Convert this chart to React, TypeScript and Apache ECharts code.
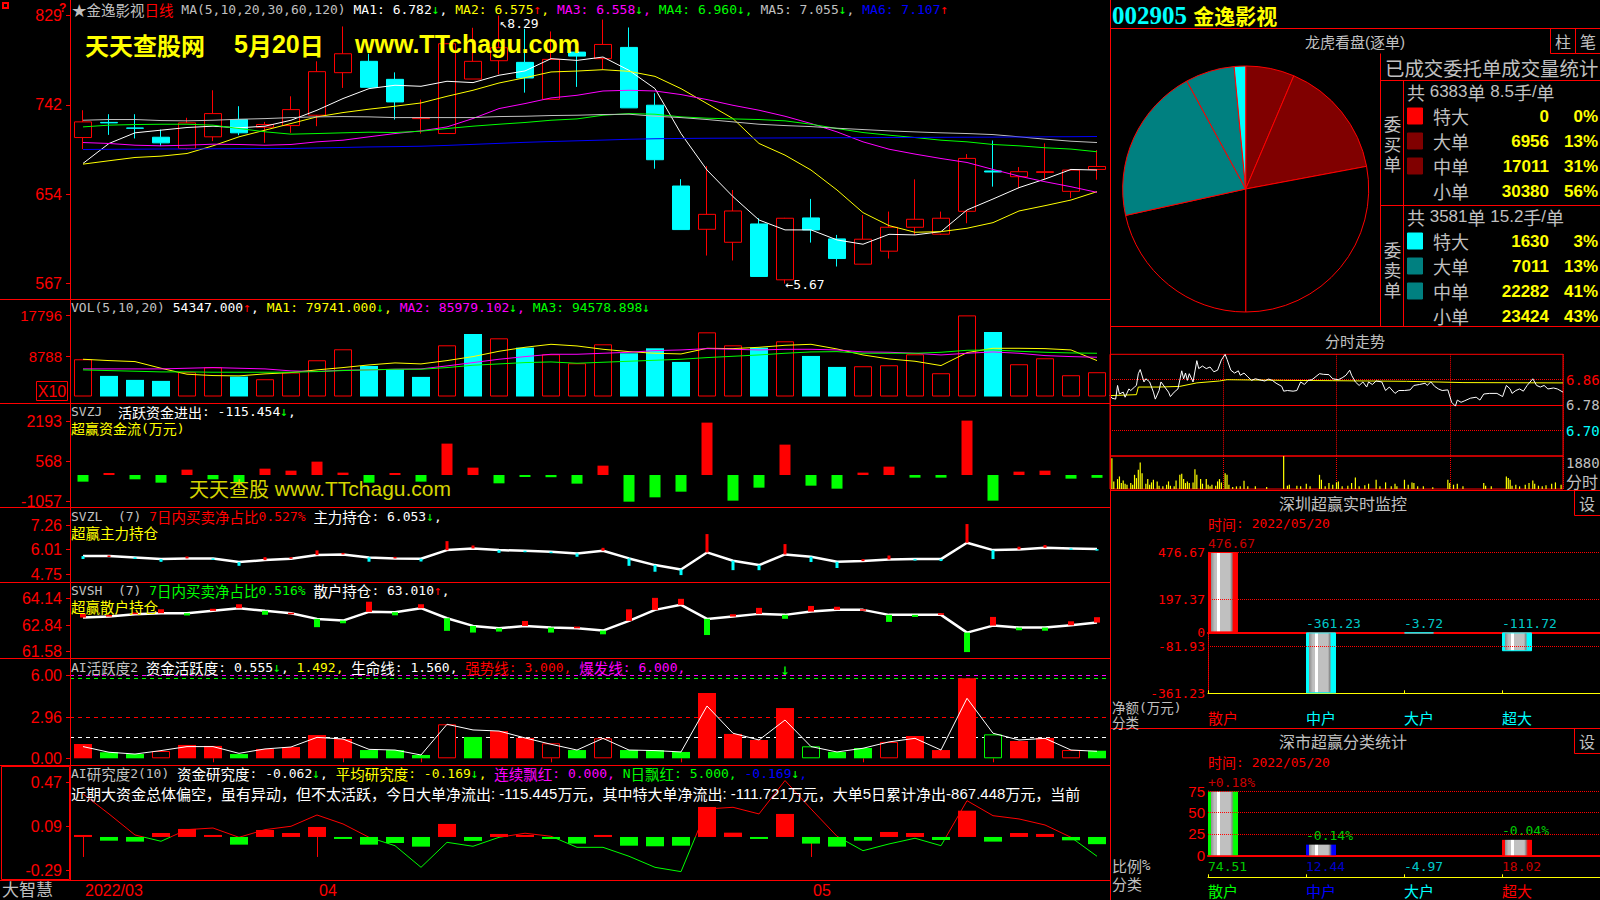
import React, { useEffect, useRef } from 'react';
import * as echarts from 'echarts';

const MONO = '"DejaVu Sans Mono", monospace';
const CJK = '"Noto Sans CJK SC", sans-serif';
const SANS = '"Liberation Sans", Arial, sans-serif';
const SERIF = '"Liberation Serif", serif';
const RED = '#ff0000', CYAN = '#00ffff', GREEN = '#00ff00', YELLOW = '#ffff00', MAGENTA = '#ff00ff';
const WHITE = '#ffffff', GRAY = '#c0c0c0', BLUE = '#0000ff', DARKRED = '#800000', TEAL = '#008080';

// ---------------- left: daily K line ----------------
const dates = ['2022/03/21','2022/03/22','2022/03/23','2022/03/24','2022/03/25','2022/03/28','2022/03/29','2022/03/30','2022/03/31','2022/04/01',
  '2022/04/06','2022/04/07','2022/04/08','2022/04/11','2022/04/12','2022/04/13','2022/04/14','2022/04/15','2022/04/18','2022/04/19',
  '2022/04/20','2022/04/21','2022/04/22','2022/04/25','2022/04/26','2022/04/27','2022/04/28','2022/04/29','2022/05/05','2022/05/06',
  '2022/05/09','2022/05/10','2022/05/11','2022/05/12','2022/05/13','2022/05/16','2022/05/17','2022/05/18','2022/05/19','2022/05/20'];
// [open, close, low, high]
const candles = [
  [7.097,7.25,6.983,7.364],[7.245,7.24,7.123,7.325],[7.19,7.188,7.088,7.325],[7.10,7.045,7.013,7.175],[6.99,7.24,6.98,7.29],
  [7.104,7.331,7.062,7.559],[7.273,7.143,7.12,7.403],[7.198,7.224,7.045,7.25],[7.214,7.37,7.143,7.50],[7.315,7.741,7.208,7.842],
  [7.731,7.916,7.582,8.183],[7.842,7.588,7.588,7.916],[7.666,7.445,7.273,7.734],[7.282,7.292,7.136,7.468],[7.136,8.014,7.136,8.02],
  [7.669,7.842,7.669,8.17],[7.848,7.975,7.715,8.29],[7.832,7.679,7.536,8.16],[7.471,7.861,7.471,8.134],[7.932,7.893,7.592,7.991],
  [7.868,8.007,7.763,8.25],[7.978,7.387,7.387,8.173],[7.413,6.88,6.792,7.53],[6.623,6.197,6.197,6.69],[6.20,6.346,5.943,6.818],
  [6.073,6.379,5.895,6.584],[6.252,5.739,5.739,6.308],[5.706,6.308,5.67,6.312],[6.311,6.194,6.07,6.497],[6.106,5.914,5.836,6.145],
  [5.859,6.103,5.859,6.34],[5.986,6.22,5.914,6.373],[6.22,6.298,6.145,6.688],[6.152,6.308,6.145,6.373],[6.376,6.893,6.259,6.935],
  [6.77,6.76,6.617,7.068],[6.714,6.763,6.60,6.808],[6.756,6.763,6.69,7.04],[6.571,6.779,6.506,6.79],[6.785,6.814,6.685,6.974]];
const ma5 = [6.844,7.039,7.143,7.169,7.195,7.208,7.192,7.208,7.266,7.364,7.478,7.575,7.608,7.598,7.647,7.634,7.706,7.748,7.868,
  7.851,7.884,7.754,7.575,7.136,6.779,6.519,6.291,6.194,6.194,6.096,6.054,6.151,6.145,6.177,6.389,6.496,6.607,6.691,6.785,6.779];
const ma10 = [6.837,6.87,6.902,6.915,6.941,7.016,7.104,7.169,7.234,7.299,7.341,7.374,7.403,7.435,7.5,7.559,7.63,7.682,7.738,
  7.747,7.76,7.744,7.695,7.575,7.429,7.282,7.039,6.925,6.779,6.584,6.363,6.236,6.171,6.177,6.21,6.265,6.379,6.431,6.486,6.568];
const ma20 = [7.048,7.039,7.022,7.016,7.022,7.032,7.029,7.022,7.029,7.055,7.071,7.104,7.136,7.162,7.201,7.283,7.38,7.429,7.484,
  7.51,7.552,7.559,7.552,7.517,7.468,7.412,7.364,7.305,7.234,7.152,7.055,6.983,6.935,6.892,6.853,6.785,6.72,6.665,6.616,6.561];
const ma30 = [7.201,7.218,7.224,7.227,7.227,7.218,7.185,7.153,7.13,7.136,7.143,7.149,7.146,7.159,7.185,7.208,7.227,7.244,7.266,
  7.279,7.315,7.331,7.325,7.299,7.286,7.279,7.273,7.26,7.227,7.185,7.146,7.12,7.097,7.071,7.055,7.029,7.016,6.997,6.984,6.958];
const ma60 = [7.266,7.273,7.273,7.263,7.26,7.266,7.276,7.282,7.292,7.299,7.302,7.299,7.292,7.292,7.292,7.292,7.302,7.305,7.312,
  7.315,7.322,7.325,7.305,7.292,7.273,7.25,7.227,7.214,7.204,7.188,7.175,7.162,7.152,7.143,7.136,7.126,7.104,7.081,7.061,7.048];
const ma120 = [6.98,6.982,6.983,6.985,6.985,6.987,6.988,6.99,6.99,6.995,7.0,7.005,7.008,7.012,7.02,7.03,7.04,7.05,7.058,7.065,
  7.072,7.08,7.085,7.088,7.09,7.091,7.092,7.093,7.094,7.095,7.096,7.097,7.098,7.099,7.1,7.101,7.102,7.104,7.105,7.107];
const mainTicks = [5.67, 6.5433, 7.4167, 8.29];

const vol = [8131,4501,3630,3412,5300,6389,4356,3775,5227,7913,10309,6679,5953,4283,11180,13649,12705,10672,9220,
  7260,11398,9438,10527,7550,14012,11180,10672,12052,8857,6461,6607,6824,9220,5082,17714,14084,7042,8349,4646,5300];
const volMa5 = [8131,7841,7623,6171,4864,4574,4501,4937,5227,5808,6316,6897,7333,7115,7841,8712,9874,10745,11398,
  11035,10309,9801,9438,9293,10527,10454,10745,11180,11398,10382,9075,8204,7696,6752,9583,10527,10527,10454,10164,7841];
const volMa10 = [6026,6026,6026,6026,6171,6316,6171,6026,5590,5445,5735,5808,5953,6026,6679,7405,8131,8712,9220,
  9220,9438,9656,10019,10164,10454,10309,10164,10309,10309,10164,9728,9656,9438,9075,9438,9728,9438,8930,8712,8567];
const volMa20 = [5808,5663,5518,5372,5372,5300,5300,5300,5300,5445,5663,5808,5953,5953,6316,6824,7115,7405,7550,
  7260,7478,7696,7913,8131,8494,8785,9075,9438,9728,9801,9438,9438,9438,9656,10091,10164,9874,9656,9511,9438];
const volTicks = [8788, 17796];

const svzj = [-271,15,-176,-312,217,-176,-298,257,176,542,95,-312,15,-271,1274,298,-339,-54,-90,
  -352,379,-1084,-908,-678,2127,-1043,-515,1233,-434,-556,95,339,-108,-108,2209,-1043,135,176,-149,-115];
const svzjTicks = [-1057, 568, 2193];

const svzl = [5.667,5.667,5.599,5.513,5.548,5.548,5.36,5.462,5.53,5.718,5.752,5.599,5.548,5.53,5.974,6.06,5.974,5.94,5.889,
  5.804,5.94,5.548,5.206,4.984,5.855,5.428,5.206,5.752,5.633,5.377,5.411,5.496,5.513,5.513,6.349,5.974,6.008,6.093,6.06,6.025];
const svzlDelta = [-0.15,0.03,-0.08,-0.14,0.1,-0.08,-0.19,0.15,0.08,0.24,0.08,-0.22,0.08,-0.14,0.46,0.15,-0.14,-0.04,-0.05,-0.17,
  0.15,-0.38,-0.34,-0.29,0.94,-0.48,-0.26,0.53,-0.27,-0.32,0.1,0.2,-0.03,-0.1,0.96,-0.46,0.14,0.14,-0.03,-0.05];
const svzlTicks = [4.75, 6.01, 7.26];

const svsh = [63.23,63.278,63.391,63.44,63.44,63.553,63.682,63.553,63.44,63.165,63.084,63.504,63.488,63.682,63.197,62.825,62.712,62.825,62.744,
  62.712,62.6,63.068,63.601,63.844,63.165,63.278,63.407,63.359,63.52,63.601,63.601,63.359,63.359,63.359,62.502,62.84,62.744,62.744,62.858,62.987];
const svshDelta = [0.18,0.08,0.08,0.19,-0.11,0.1,0.19,-0.19,0.02,-0.4,-0.13,0.49,-0.15,0.19,-0.61,-0.32,-0.16,0.24,-0.24,0.08,
  -0.18,0.56,0.58,0.29,-0.78,0.11,0.29,-0.19,0.27,0.15,0.03,-0.34,-0.1,0.08,-0.94,0.42,-0.13,-0.15,0.19,0.26];
const svshTicks = [61.58, 62.84, 64.14];

const aiAct = [1.04,0.44,0.31,0.53,0.97,0.9,0.31,0.68,0.82,1.69,1.4,0.6,0.6,0.24,2.47,1.55,1.98,1.48,1.09,0.6,
  1.45,0.6,0.6,0.46,4.74,1.77,1.33,3.65,0.87,0.46,0.75,1.19,1.62,0.6,5.81,1.74,1.26,1.48,0.6,0.55];
// R red filled, G green filled, r red hollow, g green hollow
const aiActType = 'RGGrRRGRRRRGGGrGRRrGrGGGRRRRgGGrRRRgRRrG';
const aiActLine = [0.85,0.44,0.31,0.56,0.85,0.85,0.36,0.68,0.82,1.52,1.4,0.65,0.6,0.24,2.47,2.06,1.98,1.48,1.02,0.6,
  1.45,0.6,0.56,0.46,3.8,1.82,1.33,2.78,0.85,0.46,0.73,1.19,1.45,0.6,4.36,1.82,1.33,1.45,0.6,0.51];
const aiActTicks = [0, 2.96, 6.0];
const aiActLife = 1.56, aiActStrong = 3.0, aiActBurst = 6.0, aiActHigh = 5.81, aiActSignal = 27;

const aiRes = [0.005,-0.032,-0.04,0.034,0.069,0.017,-0.066,0.06,0.034,0.086,-0.006,-0.066,-0.052,-0.083,0.112,-0.034,0.026,0.017,-0.017,-0.057,
  0.008,-0.075,-0.08,-0.075,0.258,0.037,-0.017,0.198,-0.057,-0.083,-0.032,0.043,0.034,-0.026,0.226,-0.04,0.034,0.026,-0.029,-0.062];
const aiResLine = [0.37,0.198,0.017,-0.037,0.063,0.077,-0.003,0.063,0.092,0.189,0.112,-0.003,-0.075,-0.261,-0.046,-0.08,-0.003,0.032,0.006,-0.089,
  -0.089,-0.166,-0.261,-0.298,0.241,0.255,0.198,0.485,0.241,0.006,-0.118,-0.06,-0.011,-0.075,0.312,0.183,0.155,0.103,-0.003,-0.166];
const aiResTicks = [-0.29, 0.09, 0.47];

// ---------------- right side ----------------
const orderNames = ['特大', '大单', '中单', '小单'];
const buyVols = [0, 6956, 17011, 30380];
const sellVols = [1630, 7011, 22282, 23424];
const buyColors = [RED, DARKRED, DARKRED, '#000000'];
const sellColors = [CYAN, TEAL, TEAL, '#000000'];
const buyCount = 6383, buyAvg = '8.5', sellCount = 3581, sellAvg = '15.2';

const fsMin = [0,1,3,4,5,7,8,10,11,13,14,15,16,18,19,21,22,23,24,26,27,29,31,32,34,36,38,39,40,41,42,44,46,47,49,51,53,55,57,59,
  61,62,64,66,68,69,71,73,75,77,79,82,84,86,88,91,92,94,97,99,101,103,105,107,111,113,116,118,121,123,125,127,128,130,132,134,136,137,139,141,
  144,146,148,151,153,156,159,161,164,167,168,170,172,174,176,179,181,183,184,186,188,191,194,196,198,201,205,208,210,212,213,215,217,219,221,224,226,228,230,232,235,237,240];
const fsPrice = [6.81,6.802,6.799,6.842,6.815,6.821,6.805,6.831,6.826,6.837,6.842,6.879,6.892,6.853,6.863,6.853,6.837,6.821,6.799,6.826,
  6.853,6.837,6.821,6.807,6.821,6.831,6.888,6.863,6.881,6.858,6.879,6.853,6.92,6.895,6.903,6.895,6.9,6.885,6.89,6.922,
  6.94,6.924,6.89,6.881,6.888,6.874,6.881,6.869,6.858,6.863,6.86,6.856,6.862,6.858,6.849,6.839,6.824,6.826,6.824,6.826,
  6.853,6.845,6.858,6.86,6.879,6.877,6.876,6.863,6.86,6.866,6.874,6.89,6.874,6.853,6.842,6.853,6.837,6.853,6.845,6.856,
  6.853,6.826,6.837,6.817,6.826,6.826,6.828,6.842,6.845,6.849,6.842,6.853,6.839,6.831,6.826,6.828,6.789,6.777,6.796,6.789,
  6.794,6.802,6.805,6.796,6.815,6.817,6.817,6.807,6.842,6.831,6.817,6.826,6.831,6.824,6.842,6.863,6.842,6.837,6.842,6.831,
  6.834,6.831,6.821];
const fsAvgMin = [0,14,15,26,37,46,58,62,92,118,157,187,240];
const fsAvg = [6.81,6.813,6.837,6.837,6.839,6.85,6.856,6.86,6.858,6.857,6.855,6.851,6.85];
const fsVolMin = [1,2,4,5,6,7,8,9,11,12,13,14,15,16,17,19,20,21,22,23,25,26,28,30,31,32,34,35,37,38,39,40,41,42,44,45,46,48,49,51,
  52,53,54,56,57,58,59,61,62,63,65,67,69,71,73,77,83,92,94,95,99,101,104,106,111,112,114,116,118,120,121,123,126,128,130,132,135,137,141,143,
  146,149,151,152,156,158,160,161,163,166,171,179,180,182,184,187,198,199,202,210,211,212,213,215,217,220,222,224,225,227,229,231,234,236,239];
const fsVol = [1748,432,564,714,338,489,301,244,338,244,808,620,1090,1504,902,301,564,244,376,526,432,188,150,244,432,188,150,489,808,865,
  564,338,432,338,376,1128,808,564,301,564,244,150,244,188,432,564,376,902,808,244,113,150,150,470,150,150,113,1880,188,244,
  188,150,301,150,808,526,150,338,244,376,432,150,188,338,658,150,207,301,526,150,376,150,301,150,526,244,376,338,150,150,
  94,526,338,244,301,150,338,188,150,714,620,526,188,244,150,244,338,489,301,188,150,207,301,376,244];
const fsTicks = [6.70, 6.78, 6.86];
const fsPreClose = 6.78;
const fsVolMax = 1880;

const flowCats = ['散户', '中户', '大户', '超大'];
const monVals = [476.67, -361.23, -3.72, -111.72];
const monTicks = [-361.23, -81.93, 0, 197.37, 476.67];
const ratioVals = [74.51, 12.44, -4.97, 18.02];
const ratioChg = [0.18, -0.14, null, -0.04];
const ratioTicks = [0, 25, 50, 75];
const ratioColors = [GREEN, BLUE, CYAN, RED];
const reportDate = '2022/05/20';

// ---------------- helpers ----------------
function isCjk(ch: string) {
  const c = ch.codePointAt(0) || 0;
  return (c >= 0x2e80 && c <= 0x9fff) || (c >= 0xff00 && c <= 0xffef) || (c >= 0x3000 && c <= 0x303f) || c === 0x2605;
}
function rt(parts: [string, string][], o: any = {}) {
  const latin = o.latin ?? 13, cjk = o.cjk ?? 14.5;
  const lf = o.latinFont ?? MONO, cf = o.cjkFont ?? CJK;
  const rich: any = {};
  let text = '';
  let k = 0;
  for (const [str, color] of parts) {
    let run = '';
    let mode: boolean | null = null;
    const flush = () => {
      if (!run) return;
      const name = 'r' + k++;
      rich[name] = { fill: color, fontSize: mode ? cjk : latin, fontFamily: mode ? cf : lf, fontWeight: o.weight ?? 'normal', lineHeight: o.lh ?? Math.max(latin, cjk) };
      text += '{' + name + '|' + run + '}';
      run = '';
    };
    for (const ch of Array.from(str)) {
      const m = isCjk(ch);
      if (mode !== null && m !== mode) flush();
      mode = m;
      run += ch;
    }
    flush();
  }
  return { text, rich };
}

function buildOption() {
  const g: any[] = [];
  const T = (x: number, y: number, parts: [string, string][], o: any = {}, align = 'left') => {
    const r = rt(parts, o);
    g.push({ type: 'text', x, y, z: 100, silent: true, style: { text: r.text, rich: r.rich, align, verticalAlign: 'middle', fill: WHITE } });
  };
  const L = (x1: number, y1: number, x2: number, y2: number, color = RED) =>
    g.push({ type: 'line', z: 60, silent: true, shape: { x1, y1, x2, y2 }, style: { stroke: color, lineWidth: 1 } });
  const B = (x: number, y: number, w: number, h: number, color = RED, fill = 'none') =>
    g.push({ type: 'rect', z: 60, silent: true, shape: { x, y, width: w, height: h }, style: { fill, stroke: color, lineWidth: 1 } });

  // ---- frame lines ----
  [299.5, 403.5, 507.5, 582.5, 658.5, 765.5, 880.5].forEach((y) => L(0, y, 1110, y));
  L(70.5, 0, 70.5, 880);
  L(1110.5, 0, 1110.5, 900);
  [28.5, 326.5, 490.5, 728.5].forEach((y) => L(1110, y, 1600, y));
  L(1380.5, 53.5, 1380.5, 326.5);
  L(1380.5, 80.5, 1600, 80.5);
  L(1380.5, 205.5, 1600, 205.5);
  L(1403.5, 80.5, 1403.5, 326.5);
  B(1550.5, 28.5, 25, 25); B(1575.5, 28.5, 25, 25);
  B(1574.5, 490.5, 26, 25); B(1574.5, 728.5, 26, 25);
  B(1.5, 766.5, 68, 113);
  B(36.5, 381.5, 31, 19);
  g.push({ type: 'rect', z: 60, silent: true, shape: { x: 3, y: 3, width: 5, height: 5 }, style: { fill: 'none', stroke: RED, lineWidth: 2 } });

  // ---- left texts ----
  T(59, 8, [['?', RED]], { latin: 12, weight: 'bold', latinFont: SANS });
  T(72, 9.5, [['★', GRAY], ['金逸影视', GRAY], ['日线', RED], [' MA(5,10,20,30,60,120) ', GRAY],
    ['MA1: 6.782', WHITE], ['↓', GREEN], [', ', WHITE], ['MA2: 6.575', YELLOW], ['↑', RED], [', ', YELLOW],
    ['MA3: 6.558', MAGENTA], ['↓', GREEN], [', ', MAGENTA], ['MA4: 6.960', GREEN], ['↓', GREEN], [', ', GREEN],
    ['MA5: 7.055', GRAY], ['↓', GREEN], [', ', GRAY], ['MA6: 7.107', BLUE], ['↑', RED]], { cjk: 14.5 });
  const wm = { latin: 25, cjk: 24, latinFont: SANS, weight: 'bold' };
  T(85, 44, [['天天查股网', YELLOW]], wm);
  T(234, 44, [['5月20日', YELLOW]], wm);
  T(355, 44, [['www.TTchagu.com', YELLOW]], wm);
  T(71, 307, [['VOL(5,10,20) ', GRAY], ['54347.000', WHITE], ['↑', RED], [', ', WHITE], ['MA1: 79741.000', YELLOW], ['↓', GREEN],
    [', ', YELLOW], ['MA2: 85979.102', MAGENTA], ['↓', GREEN], [', ', MAGENTA], ['MA3: 94578.898', GREEN], ['↓', GREEN]]);
  T(52, 391, [['X10', RED]], { latin: 16, latinFont: SANS }, 'center');
  T(71, 411.5, [['SVZJ  ', GRAY], ['活跃资金进出: -115.454', WHITE], ['↓', GREEN], [',', WHITE]], { cjk: 14, lh: 13 });
  T(71, 428, [['超赢资金流(万元)', YELLOW]], { cjk: 14, lh: 13 });
  T(189, 488, [['天天查股 www.TTchagu.com', '#d4d400']], { latin: 21, cjk: 20, latinFont: SANS });
  T(71, 516, [['SVZL  (7) ', GRAY], ['7日内买卖净占比0.527%', RED], [' 主力持仓: 6.053', WHITE], ['↓', GREEN], [',', WHITE]], { lh: 13 });
  T(71, 532, [['超赢主力持仓', YELLOW]], { lh: 13 });
  T(71, 590, [['SVSH  (7) ', GRAY], ['7日内买卖净占比0.516%', GREEN], [' 散户持仓: 63.010', WHITE], ['↑', RED], [',', WHITE]], { lh: 13 });
  T(71, 606, [['超赢散户持仓', YELLOW]], { lh: 13 });
  T(71, 667.5, [['AI活跃度2 ', GRAY], ['资金活跃度: 0.555', WHITE], ['↓', GREEN], [', ', WHITE], ['1.492, ', YELLOW],
    ['生命线: 1.560, ', WHITE], ['强势线: 3.000, ', RED], ['爆发线: 6.000,', MAGENTA]]);
  T(71, 773.5, [['AI研究度2(10) ', GRAY], ['资金研究度: -0.062', WHITE], ['↓', GREEN], [', ', WHITE], ['平均研究度: -0.169', YELLOW],
    ['↓', GREEN], [', ', YELLOW], ['连续飘红: 0.000, ', MAGENTA], ['N日飘红: 5.000, ', GREEN], ['-0.169', BLUE], ['↓', GREEN], [',', BLUE]]);
  T(71, 793.5, [['近期大资金总体偏空，虽有异动，但不太活跃，今日大单净流出: -115.445万元，其中特大单净流出: -111.721万元，大单5日累计净出-867.448万元，当前', WHITE]],
    { latin: 15, cjk: 15, latinFont: SANS });
  T(2, 888, [['大智慧', GRAY]], { cjk: 17, lh: 17 });

  // ---- right texts ----
  T(1112, 15, [['002905', CYAN], [' 金逸影视', YELLOW]], { latin: 25, cjk: 21, latinFont: SERIF, weight: 'bold' });
  T(1355, 41, [['龙虎看盘(逐单)', GRAY]], { latinFont: SANS, latin: 15, cjk: 15 }, 'center');
  T(1563, 41, [['柱', GRAY]], { cjk: 16 }, 'center');
  T(1588, 41, [['笔', GRAY]], { cjk: 16 }, 'center');
  T(1385, 67, [['已成交委托单成交量统计', GRAY]], { cjk: 19.4 });
  ['委', '买', '单'].forEach((c, i) => T(1392.5, 123 + 20 * i, [[c, GRAY]], { cjk: 17.5, lh: 17.5 }, 'center'));
  ['委', '卖', '单'].forEach((c, i) => T(1392.5, 249 + 20 * i, [[c, GRAY]], { cjk: 17.5, lh: 17.5 }, 'center'));
  const tbl = { latin: 17, cjk: 18, latinFont: SANS };
  T(1407, 91.5, [['共 ' + buyCount + '单 ' + buyAvg + '手/单', GRAY]], tbl);
  T(1407, 216.5, [['共 ' + sellCount + '单 ' + sellAvg + '手/单', GRAY]], tbl);
  const buySum = buyVols.reduce((a, b) => a + b, 0);
  const sellSum = sellVols.reduce((a, b) => a + b, 0);
  const rows = (vals: number[], cols: string[], sum: number, y0: number) => {
    vals.forEach((v, i) => {
      const y = y0 + 25 * i;
      if (i < 3) B(1407.5, y - 8, 15, 16, cols[i], cols[i]);
      T(1433, y, [[orderNames[i], GRAY]], { cjk: 18 });
      T(1549, y, [[String(v), YELLOW]], { latin: 17, latinFont: SANS, weight: 'bold' }, 'right');
      T(1598, y, [[Math.round((v / sum) * 100) + '%', YELLOW]], { latin: 17, latinFont: SANS, weight: 'bold' }, 'right');
    });
  };
  rows(buyVols, buyColors, buySum, 116);
  rows(sellVols, sellColors, sellSum, 241);
  T(1355, 340, [['分时走势', GRAY]], { cjk: 15 }, 'center');
  T(1566, 481, [['分时', GRAY]], { cjk: 16 });
  T(1343, 503, [['深圳超赢实时监控', GRAY]], { cjk: 16 }, 'center');
  T(1587, 503, [['设', GRAY]], { cjk: 16 }, 'center');
  T(1208, 523.5, [['时间: ' + reportDate, RED]], { cjk: 14 });
  T(1112, 707, [['净额(万元)', GRAY]], { cjk: 13.5, lh: 12 });
  T(1112, 722, [['分类', GRAY]], { cjk: 13.5, lh: 12 });
  T(1343, 741, [['深市超赢分类统计', GRAY]], { cjk: 16 }, 'center');
  T(1587, 741, [['设', GRAY]], { cjk: 16 }, 'center');
  T(1208, 762, [['时间: ' + reportDate, RED]], { cjk: 14 });
  T(1112, 865, [['比例%', GRAY]], { cjk: 15, latin: 14 });
  T(1112, 883, [['分类', GRAY]], { cjk: 15 });

  // ---- grids ----
  const GL = 70, GW = 1040;
  const leftDefs = [
    { top: 15.5, height: 268, min: 5.67, max: 8.29, ticks: mainTicks, fmt: (v: number) => String(Math.round(v * 100)), fs: 16 },
    { top: 315, height: 81.5, min: 0, max: 17796, ticks: volTicks, fmt: (v: number) => String(v), fs: 15 },
    { top: 421, height: 80, min: -1057, max: 2193, ticks: svzjTicks, fmt: (v: number) => String(v), fs: 16 },
    { top: 525, height: 49, min: 4.75, max: 7.26, ticks: svzlTicks, fmt: (v: number) => v.toFixed(2), fs: 16 },
    { top: 598.7, height: 53, min: 61.58, max: 64.14, ticks: svshTicks, fmt: (v: number) => v.toFixed(2), fs: 16 },
    { top: 675.7, height: 82.6, min: 0, max: 6, ticks: aiActTicks, fmt: (v: number) => v.toFixed(2), fs: 16 },
    { top: 782.3, height: 88.4, min: -0.29, max: 0.47, ticks: aiResTicks, fmt: (v: number) => v.toFixed(2), fs: 16 },
  ];
  const grid: any[] = leftDefs.map((d) => ({ left: GL, width: GW, top: d.top, height: d.height, outerBoundsMode: 'none' }));
  grid.push({ left: 1110, width: 453, top: 354.3, height: 101.7, show: true, borderColor: RED, borderWidth: 1, backgroundColor: 'transparent', outerBoundsMode: 'none' }); // 7
  grid.push({ left: 1110, width: 453, top: 456, height: 33, show: true, borderColor: RED, borderWidth: 1, backgroundColor: 'transparent', outerBoundsMode: 'none' }); // 8
  grid.push({ left: 1208, width: 392, top: 552, height: 141.3, outerBoundsMode: 'none' }); // 9
  grid.push({ left: 1208, width: 392, top: 791, height: 64.3, outerBoundsMode: 'none' }); // 10

  const monthStart = dates.map((d, i) => i === 0 || d.slice(5, 7) !== dates[i - 1].slice(5, 7));
  const weekStart = dates.map((d, i) => {
    if (i === 0) return true;
    const a = new Date(d.replace(/\//g, '-') + 'T00:00:00');
    const b = new Date(dates[i - 1].replace(/\//g, '-') + 'T00:00:00');
    return a.getDay() <= b.getDay() || (a.getTime() - b.getTime()) / 86400000 >= 7;
  });

  const xAxis: any[] = leftDefs.map((d, i) => ({ type: 'category', gridIndex: i, data: dates, boundaryGap: true, show: false }));
  xAxis[6] = {
    type: 'category', gridIndex: 6, data: dates, boundaryGap: true, offset: 880.5 - (782.3 + 88.4),
    axisLine: { show: false },
    axisTick: { show: true, alignWithLabel: true, interval: (i: number) => monthStart[i], length: 20, lineStyle: { color: RED } },
    axisLabel: { show: true, interval: (i: number) => monthStart[i], formatter: (v: string, i: number) => (i === 0 ? v.slice(0, 7) : v.slice(5, 7)),
      color: RED, fontSize: 16, fontFamily: SANS, align: 'left', margin: 2, padding: [0, 0, 0, 2] },
    splitLine: { show: false },
  };
  xAxis[5] = {
    type: 'category', gridIndex: 5, data: dates, boundaryGap: true, offset: 880.5 - (675.7 + 82.6),
    axisLine: { show: false },
    axisTick: { show: true, alignWithLabel: true, interval: (i: number) => weekStart[i] && !monthStart[i], length: 4, lineStyle: { color: RED } },
    axisLabel: { show: false }, splitLine: { show: false },
  };
  const fsX = (gi: number) => ({ type: 'value', gridIndex: gi, min: 0, max: 240, interval: 60, axisLine: { show: false }, axisTick: { show: false },
    axisLabel: { show: false }, splitLine: { show: true, lineStyle: { color: RED, type: 'dotted', width: 1 } } });
  xAxis.push(fsX(7)); // 7
  xAxis.push(fsX(8)); // 8
  const cats5 = [...flowCats, ''];
  xAxis.push({ type: 'category', gridIndex: 9, data: cats5, boundaryGap: false, position: 'top',
    axisLine: { show: true, onZero: true, lineStyle: { color: RED, width: 2 } }, axisTick: { show: false }, axisLabel: { show: false }, splitLine: { show: false } }); // 9
  xAxis.push({ type: 'category', gridIndex: 9, data: cats5, boundaryGap: false, position: 'bottom',
    axisLine: { show: true, onZero: false, lineStyle: { color: YELLOW } }, axisTick: { show: true, inside: true, length: 3, interval: 0, lineStyle: { color: YELLOW } },
    axisLabel: { show: true, interval: 0, align: 'left', margin: 17, fontFamily: CJK, fontSize: 15, color: (v: any, i: number) => ((monVals[i] ?? -1) >= 0 ? RED : CYAN) },
    splitLine: { show: false } }); // 10
  xAxis.push({ type: 'category', gridIndex: 10, data: cats5, boundaryGap: false, position: 'top',
    axisLine: { show: true, onZero: true, lineStyle: { color: RED, width: 2 } }, axisTick: { show: false }, axisLabel: { show: false },
    splitLine: { show: false } }); // 11
  xAxis.push({ type: 'category', gridIndex: 10, data: cats5, boundaryGap: false, position: 'bottom', offset: 22,
    axisLine: { show: true, onZero: false, lineStyle: { color: YELLOW } }, axisTick: { show: true, inside: true, length: 3, interval: 0, lineStyle: { color: YELLOW } },
    axisLabel: { show: true, interval: 0, align: 'left', margin: 6, fontFamily: CJK, fontSize: 15, color: (v: any, i: number) => ratioColors[i] || CYAN },
    splitLine: { show: false } }); // 12

  const yAxis: any[] = leftDefs.map((d, i) => ({
    type: 'value', gridIndex: i, min: d.min, max: d.max, scale: true,
    axisLine: { show: false }, splitLine: { show: false },
    axisTick: { show: true, customValues: d.ticks, length: 4, lineStyle: { color: RED } },
    axisLabel: { show: true, customValues: d.ticks, formatter: d.fmt, color: RED, fontFamily: SANS, fontSize: d.fs, margin: 8 },
  }));
  yAxis.push({ type: 'value', gridIndex: 7, position: 'right', min: 6.62, max: 6.94, scale: true, axisLine: { show: false }, axisTick: { show: false }, splitLine: { show: false },
    axisLabel: { show: true, customValues: fsTicks, formatter: (v: number) => v.toFixed(2), fontFamily: MONO, fontSize: 14, margin: 3,
      color: (v: any) => (parseFloat(v) > fsPreClose + 1e-6 ? RED : parseFloat(v) < fsPreClose - 1e-6 ? CYAN : GRAY) } });
  yAxis.push({ type: 'value', gridIndex: 8, position: 'right', min: 0, max: fsVolMax, axisLine: { show: false }, axisTick: { show: false }, splitLine: { show: false },
    axisLabel: { show: true, customValues: [fsVolMax], formatter: (v: number) => String(v), color: GRAY, fontFamily: MONO, fontSize: 14, margin: 3, verticalAlign: 'top' } });
  yAxis.push({ type: 'value', gridIndex: 9, min: monTicks[0], max: monTicks[monTicks.length - 1], axisLine: { show: true, onZero: false, lineStyle: { color: RED, type: 'dotted' } },
    axisTick: { show: false }, splitLine: { show: false },
    axisLabel: { show: true, customValues: monTicks, formatter: (v: number) => (v === 0 ? '0' : v.toFixed(2)), color: RED, fontFamily: MONO, fontSize: 13, margin: 3 } });
  yAxis.push({ type: 'value', gridIndex: 10, min: 0, max: 75, axisLine: { show: true, onZero: false, lineStyle: { color: RED, type: 'dotted' } },
    axisTick: { show: false }, splitLine: { show: false },
    axisLabel: { show: true, customValues: ratioTicks, formatter: (v: number) => String(v), color: RED, fontFamily: SANS, fontSize: 15, margin: 3 } });

  // ---- series ----
  const series: any[] = [];
  const noSym = { symbol: 'none', silent: true };
  let hiIdx = 0, loIdx = 0;
  candles.forEach((c, i) => { if (c[3] > candles[hiIdx][3]) hiIdx = i; if (c[2] < candles[loIdx][2]) loIdx = i; });
  series.push({
    type: 'candlestick', xAxisIndex: 0, yAxisIndex: 0, data: candles, barWidth: 18, silent: true, z: 2,
    itemStyle: { color: '#000000', color0: CYAN, borderColor: RED, borderColor0: CYAN, borderWidth: 1 },
    markPoint: {
      symbol: 'circle', symbolSize: 1, itemStyle: { color: 'rgba(0,0,0,0)' }, silent: true,
      data: [
        { coord: [hiIdx, candles[hiIdx][3]], label: { show: true, position: 'right', distance: 0, offset: [0, 8], formatter: '↖' + candles[hiIdx][3].toFixed(2), color: WHITE, fontFamily: MONO, fontSize: 13 } },
        { coord: [loIdx, candles[loIdx][2]], label: { show: true, position: 'right', distance: 0, offset: [0, 1], formatter: '←' + candles[loIdx][2].toFixed(2), color: WHITE, fontFamily: MONO, fontSize: 13 } },
      ],
    },
  });
  [[ma5, WHITE], [ma10, YELLOW], [ma20, MAGENTA], [ma30, GREEN], [ma60, GRAY], [ma120, BLUE]].forEach(([d, c]: any) =>
    series.push({ type: 'line', xAxisIndex: 0, yAxisIndex: 0, data: d, ...noSym, z: 3, lineStyle: { color: c, width: 1 } }));

  series.push({
    type: 'bar', xAxisIndex: 1, yAxisIndex: 1, barWidth: 18, silent: true, z: 2,
    data: vol.map((v, i) => {
      const up = i === 0 ? candles[0][1] >= candles[0][0] : candles[i][1] >= candles[i - 1][1];
      return { value: v, itemStyle: up ? { color: '#000000', borderColor: RED, borderWidth: 1 } : { color: CYAN } };
    }),
  });
  [[volMa5, YELLOW], [volMa10, MAGENTA], [volMa20, GREEN]].forEach(([d, c]: any) =>
    series.push({ type: 'line', xAxisIndex: 1, yAxisIndex: 1, data: d, ...noSym, z: 3, lineStyle: { color: c, width: 1 } }));

  series.push({ type: 'bar', xAxisIndex: 2, yAxisIndex: 2, barWidth: 11, barMinHeight: 2, clip: false, silent: true,
    data: svzj.map((v) => ({ value: v, itemStyle: { color: v >= 0 ? RED : GREEN } })) });

  const markers = (gi: number, base: number[], delta: number[], w: number, up: string, down: string) => ({
    type: 'custom', xAxisIndex: gi, yAxisIndex: gi, silent: true, z: 4, encode: { x: 0, y: 1 },
    data: base.map((b, i) => [i, b, delta[i]]),
    renderItem: (params: any, api: any) => {
      const i = api.value(0), b = api.value(1), d = api.value(2);
      const p0 = api.coord([i, b]);
      const p1 = api.coord([i, b + d]);
      return { type: 'rect', shape: { x: p0[0] - w / 2, y: Math.min(p0[1], p1[1]), width: w, height: Math.max(1.5, Math.abs(p1[1] - p0[1])) },
        style: { fill: d >= 0 ? up : down } };
    },
  });
  series.push({ type: 'line', xAxisIndex: 3, yAxisIndex: 3, data: svzl, ...noSym, z: 3, lineStyle: { color: WHITE, width: 2.5 } });
  series.push(markers(3, svzl, svzlDelta, 3, RED, CYAN));
  series.push({ type: 'line', xAxisIndex: 4, yAxisIndex: 4, data: svsh, ...noSym, z: 3, lineStyle: { color: WHITE, width: 2.5 } });
  series.push(markers(4, svsh, svshDelta, 6, RED, GREEN));

  const dash = [4, 4];
  series.push({
    type: 'bar', xAxisIndex: 5, yAxisIndex: 5, barWidth: 18, silent: true, z: 3,
    data: aiAct.map((v, i) => {
      const t = aiActType[i];
      const col = t === 'R' || t === 'r' ? RED : GREEN;
      const hollow = t === 'r' || t === 'g';
      return { value: v, itemStyle: hollow ? { color: '#000000', borderColor: col, borderWidth: 1 } : { color: col } };
    }),
    markLine: {
      symbol: 'none', silent: true, label: { show: false }, z: 1,
      data: [
        { yAxis: aiActBurst, lineStyle: { color: MAGENTA, type: dash, width: 1 } },
        { yAxis: aiActHigh, lineStyle: { color: GREEN, type: dash, width: 1 } },
        { yAxis: aiActStrong, lineStyle: { color: RED, type: dash, width: 1 } },
        { yAxis: aiActLife, lineStyle: { color: WHITE, type: dash, width: 1 } },
      ],
    },
    markPoint: {
      symbol: 'circle', symbolSize: 1, itemStyle: { color: 'rgba(0,0,0,0)' }, silent: true,
      data: [{ coord: [aiActSignal, aiActBurst], label: { show: true, position: 'top', distance: 0, offset: [0, 2], formatter: '↓', color: GREEN, fontFamily: MONO, fontSize: 16 } }],
    },
  });
  series.push({ type: 'line', xAxisIndex: 5, yAxisIndex: 5, data: aiActLine, ...noSym, z: 4, lineStyle: { color: WHITE, width: 1 } });

  series.push({ type: 'bar', xAxisIndex: 6, yAxisIndex: 6, barWidth: 18, barMinHeight: 2, clip: false, silent: true,
    data: aiRes.map((v) => ({ value: v, itemStyle: { color: v >= 0 ? RED : GREEN } })) });
  const aiResLineIdx = series.length;
  series.push({ type: 'line', xAxisIndex: 6, yAxisIndex: 6, data: aiResLine.map((v, i) => [i, v]), ...noSym, clip: false, z: 4, lineStyle: { width: 1 } });

  const pieData = [
    ...buyVols.map((v, i) => ({ value: v, name: '买' + orderNames[i], itemStyle: { color: buyColors[i] } })),
    ...sellVols.map((v, i) => ({ value: v, name: '卖' + orderNames[i], itemStyle: { color: sellColors[i] } })).reverse(),
  ];
  series.push({ type: 'pie', center: [1245.7, 189], radius: 123, startAngle: 90, clockwise: true, silent: true, avoidLabelOverlap: false,
    label: { show: false }, labelLine: { show: false }, itemStyle: { borderColor: RED, borderWidth: 1 }, data: pieData });

  series.push({ type: 'line', xAxisIndex: 7, yAxisIndex: 7, data: fsMin.map((m, i) => [m, fsPrice[i]]), ...noSym, z: 4, lineStyle: { color: WHITE, width: 1 },
    markLine: { symbol: 'none', silent: true, label: { show: false }, z: 1,
      data: fsTicks.map((v) => ({ yAxis: v, lineStyle: { color: RED, width: 1, type: Math.abs(v - fsPreClose) < 1e-6 ? 'solid' : 'dotted' } })) } });
  series.push({ type: 'line', xAxisIndex: 7, yAxisIndex: 7, data: fsAvgMin.map((m, i) => [m, fsAvg[i]]), ...noSym, z: 3, lineStyle: { color: YELLOW, width: 1 } });
  series.push({ type: 'bar', xAxisIndex: 8, yAxisIndex: 8, data: fsVolMin.map((m, i) => [m, fsVol[i]]), barWidth: 1.2, silent: true, itemStyle: { color: YELLOW } });

  const barFill = (edge: string) => new echarts.graphic.LinearGradient(0, 0, 1, 0, [
    { offset: 0, color: edge }, { offset: 0.1, color: edge }, { offset: 0.1, color: '#909090' }, { offset: 0.22, color: '#c0c0c0' },
    { offset: 0.3, color: '#c0c0c0' }, { offset: 0.3, color: '#ffffff' }, { offset: 0.4, color: '#ffffff' }, { offset: 0.4, color: '#c0c0c0' },
    { offset: 0.74, color: '#c0c0c0' }, { offset: 0.8, color: '#888888' }, { offset: 0.86, color: edge }, { offset: 1, color: edge },
  ]);
  series.push({ type: 'bar', xAxisIndex: 9, yAxisIndex: 9, data: monVals.map(() => 0), barWidth: 30, barGap: '0%', silent: true, itemStyle: { color: 'rgba(0,0,0,0)' } });
  series.push({ type: 'bar', xAxisIndex: 9, yAxisIndex: 9, barWidth: 30, barGap: '0%', barMinHeight: 1, silent: true,
    data: monVals.map((v) => { const e = v >= 0 ? RED : CYAN; return { value: v, itemStyle: { color: barFill(e), borderColor: e, borderWidth: 1 } }; }),
    markLine: { symbol: 'none', silent: true, label: { show: false }, lineStyle: { color: RED, type: 'dotted', width: 1 },
      data: monTicks.filter((v) => v !== 0 && v !== monTicks[0]).map((v) => ({ yAxis: v })) } });
  series.push({ type: 'scatter', xAxisIndex: 9, yAxisIndex: 9, symbolSize: 1, silent: true, itemStyle: { color: 'rgba(0,0,0,0)' },
    data: monVals.map((v, i) => ({ value: [i, Math.max(v, 0)], label: { show: true, position: 'top', align: 'left', distance: 2, formatter: v.toFixed(2),
      color: v >= 0 ? RED : CYAN, fontFamily: MONO, fontSize: 13 } })) });
  series.push({ type: 'bar', xAxisIndex: 11, yAxisIndex: 10, data: ratioVals.map(() => 0), barWidth: 30, barGap: '0%', silent: true, itemStyle: { color: 'rgba(0,0,0,0)' } });
  series.push({ type: 'bar', xAxisIndex: 11, yAxisIndex: 10, barWidth: 30, barGap: '0%', silent: true,
    data: ratioVals.map((v, i) => ({ value: v, itemStyle: { color: barFill(ratioColors[i]) } })),
    markLine: { symbol: 'none', silent: true, label: { show: false }, lineStyle: { color: RED, type: 'dotted', width: 1 },
      data: ratioTicks.filter((v) => v !== 0).map((v) => ({ yAxis: v })) } });
  series.push({ type: 'scatter', xAxisIndex: 11, yAxisIndex: 10, symbolSize: 1, silent: true, itemStyle: { color: 'rgba(0,0,0,0)' },
    data: ratioVals.map((v, i) => {
      const c = ratioChg[i];
      return { value: [i, Math.max(v, 0)], label: { show: c !== null, position: 'top', align: 'left', distance: 2,
        formatter: c === null ? '' : (c > 0 ? '+' : '') + c.toFixed(2) + '%', color: c !== null && c > 0 ? RED : GREEN, fontFamily: MONO, fontSize: 13 } };
    }) });
  series.push({ type: 'scatter', xAxisIndex: 11, yAxisIndex: 10, symbolSize: 1, silent: true, clip: false, itemStyle: { color: 'rgba(0,0,0,0)' },
    data: ratioVals.map((v, i) => ({ value: [i, 0], label: { show: true, position: 'bottom', align: 'left', distance: 4, formatter: v.toFixed(2),
      color: ratioColors[i], fontFamily: MONO, fontSize: 13 } })) });

  return {
    option: {
      backgroundColor: '#000000',
      animation: false,
      textStyle: { fontFamily: SANS },
      grid, xAxis, yAxis, series,
      visualMap: [{ type: 'piecewise', show: false, seriesIndex: aiResLineIdx, dimension: 1,
        pieces: [{ min: -10, max: 0, color: GREEN }, { min: 0, max: 10, color: RED }] }],
      graphic: { elements: g },
    },
    aiResLineIdx,
  };
}

export default function App() {
  const ref = useRef<HTMLDivElement>(null);
  useEffect(() => {
    if (!ref.current) return;
    let chart = echarts.init(ref.current, null, { renderer: 'svg' });
    const { option, aiResLineIdx } = buildOption();
    try {
      chart.setOption(option as any);
    } catch (e) {
      chart.dispose();
      chart = echarts.init(ref.current, null, { renderer: 'svg' });
      const o: any = { ...option };
      delete o.visualMap;
      o.series = o.series.slice();
      o.series[aiResLineIdx] = { ...o.series[aiResLineIdx], lineStyle: { width: 1, color: RED } };
      try { chart.setOption(o); } catch (e2) { /* ignore */ }
    }
    return () => chart.dispose();
  }, []);
  return <div ref={ref} style={{ position: 'fixed', left: 0, top: 0, width: 1600, height: 900, background: '#000' }} />;
}
